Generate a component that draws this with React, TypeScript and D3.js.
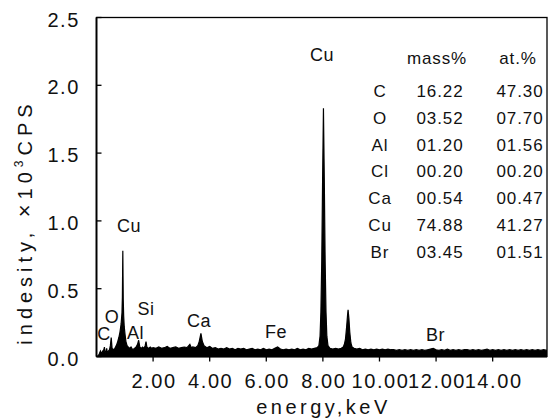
import React from 'react';
import * as d3 from 'd3';

const W = 548;
const H = 420;
const FONT = '"Liberation Sans", Arial, Helvetica, sans-serif';

// axis ticks
const yTicks = [0, 0.5, 1.0, 1.5, 2.0, 2.5];
const xTicks = [2, 4, 6, 8, 10, 12, 14];

// EDS spectrum: [energy keV, intensity x10^3 CPS]
const spectrum: [number, number][] = [
  [0.05, 0.0], [0.1, 0.02], [0.14, 0.04], [0.18, 0.02], [0.22, 0.04], [0.26, 0.05], [0.28, 0.07],
  [0.3, 0.03], [0.34, 0.04], [0.36, 0.06], [0.38, 0.03], [0.42, 0.04], [0.46, 0.05], [0.49, 0.08],
  [0.52, 0.14], [0.55, 0.06], [0.6, 0.05], [0.65, 0.06], [0.7, 0.08], [0.75, 0.11], [0.79, 0.14],
  [0.83, 0.18], [0.87, 0.24], [0.9, 0.32], [0.915, 0.44], [0.93, 0.78], [0.945, 0.42], [0.96, 0.3],
  [0.98, 0.22], [1.01, 0.16], [1.04, 0.11], [1.08, 0.08], [1.12, 0.07], [1.17, 0.06], [1.22, 0.07],
  [1.28, 0.05], [1.34, 0.06], [1.4, 0.07], [1.45, 0.09], [1.49, 0.12], [1.53, 0.07], [1.58, 0.06],
  [1.63, 0.07], [1.68, 0.06], [1.72, 0.08], [1.75, 0.11], [1.78, 0.07], [1.84, 0.06], [1.9, 0.07],
  [1.95, 0.06], [2.0, 0.065], [2.1, 0.06], [2.2, 0.07], [2.3, 0.06], [2.4, 0.065], [2.5, 0.075],
  [2.6, 0.06], [2.7, 0.065], [2.8, 0.07], [2.9, 0.06], [3.0, 0.065], [3.1, 0.07], [3.2, 0.065],
  [3.3, 0.09], [3.35, 0.065], [3.4, 0.07], [3.5, 0.065], [3.58, 0.08], [3.63, 0.11], [3.69, 0.17],
  [3.74, 0.11], [3.8, 0.08], [3.9, 0.065], [4.0, 0.075], [4.1, 0.06], [4.2, 0.065], [4.3, 0.055],
  [4.4, 0.06], [4.5, 0.055], [4.6, 0.065], [4.7, 0.055], [4.8, 0.06], [4.9, 0.05], [5.0, 0.06],
  [5.1, 0.055], [5.2, 0.06], [5.3, 0.05], [5.4, 0.055], [5.5, 0.06], [5.6, 0.05], [5.7, 0.055],
  [5.8, 0.05], [5.9, 0.06], [6.0, 0.05], [6.1, 0.055], [6.2, 0.05], [6.3, 0.06], [6.4, 0.07],
  [6.5, 0.055], [6.6, 0.05], [6.7, 0.055], [6.8, 0.05], [6.9, 0.055], [7.0, 0.05], [7.1, 0.06],
  [7.2, 0.05], [7.3, 0.055], [7.4, 0.05], [7.5, 0.06], [7.6, 0.055], [7.7, 0.06], [7.8, 0.065],
  [7.86, 0.08], [7.9, 0.15], [7.93, 0.33], [7.96, 0.7], [7.99, 1.3], [8.02, 1.83], [8.05, 1.3],
  [8.08, 0.7], [8.11, 0.33], [8.14, 0.15], [8.18, 0.08], [8.25, 0.06], [8.35, 0.055], [8.45, 0.06],
  [8.55, 0.055], [8.65, 0.06], [8.72, 0.07], [8.76, 0.09], [8.8, 0.13], [8.84, 0.22], [8.87, 0.3],
  [8.89, 0.345], [8.92, 0.28], [8.95, 0.18], [8.99, 0.1], [9.03, 0.07], [9.1, 0.06], [9.2, 0.055],
  [9.3, 0.06], [9.4, 0.05], [9.5, 0.055], [9.6, 0.05], [9.7, 0.055], [9.8, 0.05], [9.9, 0.055],
  [10.0, 0.05], [10.1, 0.055], [10.2, 0.05], [10.3, 0.055], [10.4, 0.05], [10.5, 0.05], [10.6, 0.045],
  [10.7, 0.05], [10.8, 0.045], [10.9, 0.05], [11.0, 0.045], [11.1, 0.05], [11.2, 0.045], [11.3, 0.05],
  [11.4, 0.045], [11.5, 0.05], [11.6, 0.045], [11.7, 0.05], [11.8, 0.055], [11.9, 0.06], [12.0, 0.05],
  [12.1, 0.045], [12.2, 0.05], [12.3, 0.045], [12.4, 0.055], [12.5, 0.045], [12.6, 0.05], [12.7, 0.045],
  [12.8, 0.05], [12.9, 0.045], [13.0, 0.05], [13.1, 0.05], [13.2, 0.045], [13.3, 0.05], [13.4, 0.045],
  [13.5, 0.05], [13.6, 0.045], [13.7, 0.05], [13.8, 0.055], [13.9, 0.045], [14.0, 0.05], [14.1, 0.045],
  [14.2, 0.05], [14.3, 0.045], [14.4, 0.05], [14.5, 0.045], [14.6, 0.05], [14.7, 0.045], [14.8, 0.05],
  [14.9, 0.045], [15.0, 0.05], [15.1, 0.045], [15.2, 0.05], [15.3, 0.045], [15.4, 0.05], [15.5, 0.045],
  [15.6, 0.05], [15.7, 0.045], [15.8, 0.05], [15.92, 0.045],
];

// peak annotations: label, energy (keV), label baseline value
const peakNames = ['C', 'O', 'Cu', 'Al', 'Si', 'Ca', 'Fe', 'Cu', 'Br'];
const peakEnergy = [0.265, 0.55, 1.15, 1.38, 1.75, 3.62, 6.34, 7.97, 11.98];
const peakLabelValue = [0.122, 0.247, 0.918, 0.129, 0.306, 0.218, 0.136, 2.18, 0.114];

// composition table
const tableElements = ['C', 'O', 'Al', 'Cl', 'Ca', 'Cu', 'Br'];
const massPct = ['16.22', '03.52', '01.20', '00.20', '00.54', '74.88', '03.45'];
const atPct = ['47.30', '07.70', '01.56', '00.20', '00.47', '41.27', '01.51'];

export default function App() {
  const x = d3.scaleLinear().domain([0, 15.92]).range([96.5, 547]);
  const y = d3.scaleLinear().domain([0, 2.5]).range([356.5, 17.5]);

  const area = d3
    .area<[number, number]>()
    .x((d) => x(d[0]))
    .y0(y(0))
    .y1((d) => y(d[1]));
  const line = d3
    .line<[number, number]>()
    .x((d) => x(d[0]))
    .y((d) => y(d[1]));

  const [x0, x1] = x.range();
  const [y0, y1] = y.range();

  return (
    <svg
      width={W}
      height={H}
      style={{ position: 'absolute', left: 0, top: 0, background: '#fff' }}
      fontFamily={FONT}
    >
      <defs>
        <clipPath id="plot">
          <rect x={x0} y={y1} width={x1 - x0} height={y0 - y1} />
        </clipPath>
      </defs>

      {/* spectrum */}
      <g clipPath="url(#plot)">
        <path d={area(spectrum) || ''} fill="#000" />
        <path d={line(spectrum) || ''} fill="none" stroke="#000" strokeWidth={1.2} />
      </g>

      {/* frame */}
      <rect x={x0} y={y1} width={x1 - x0} height={y0 - y1} fill="none" stroke="#000" strokeWidth={1.3} />
      <line x1={x0} x2={x0} y1={y1} y2={y0} stroke="#000" strokeWidth={1.8} />
      <line x1={x0} x2={x1} y1={y0} y2={y0} stroke="#000" strokeWidth={2} />

      {/* y ticks */}
      {yTicks.map((t) => (
        <g key={'y' + t}>
          <line x1={x0} x2={x0 + 5} y1={y(t)} y2={y(t)} stroke="#000" strokeWidth={1.3} />
          <text x={80} y={y(t) + 9} textAnchor="end" fontSize={20} letterSpacing={1.6} fill="#111">
            {t.toFixed(1)}
          </text>
        </g>
      ))}

      {/* x ticks */}
      {xTicks.map((t) => (
        <g key={'x' + t}>
          <line x1={x(t)} x2={x(t)} y1={y0} y2={y0 + 5} stroke="#000" strokeWidth={1.3} />
          <text x={x(t) + 1} y={y0 + 31} textAnchor="middle" fontSize={20} letterSpacing={1.6} fill="#111">
            {t.toFixed(2)}
          </text>
        </g>
      ))}

      {/* axis titles */}
      <text
        x={(x0 + x1) / 2}
        y={414}
        textAnchor="middle"
        fontSize={20}
        textLength={131}
        lengthAdjust="spacing"
        fill="#111"
      >
        energy,keV
      </text>
      <text
        transform={`translate(32, 222) rotate(-90)`}
        textAnchor="middle"
        fontSize={20}
        fill="#111"
        letterSpacing={5}
      >
        indesity, <tspan fontSize={22}>×</tspan>10
        <tspan fontSize={12} dy={-9}>3</tspan>
        <tspan dy={9}>CPS</tspan>
      </text>

      {/* peak labels */}
      {peakNames.map((n, i) => (
        <text
          key={'p' + i}
          x={x(peakEnergy[i])}
          y={y(peakLabelValue[i])}
          textAnchor="middle"
          fontSize={18}
          letterSpacing={0.5}
          fill="#111"
        >
          {n}
        </text>
      ))}

      {/* composition table */}
      <g fontSize={17} fill="#111" letterSpacing={0.9}>
        <text x={437} y={64} textAnchor="middle">mass%</text>
        <text x={518} y={64} textAnchor="middle">at.%</text>
        {tableElements.map((el, i) => (
          <g key={'t' + el}>
            <text x={380} y={97 + i * 26.8} textAnchor="middle">{el}</text>
            <text x={440} y={97 + i * 26.8} textAnchor="middle">{massPct[i]}</text>
            <text x={520} y={97 + i * 26.8} textAnchor="middle">{atPct[i]}</text>
          </g>
        ))}
      </g>
    </svg>
  );
}
